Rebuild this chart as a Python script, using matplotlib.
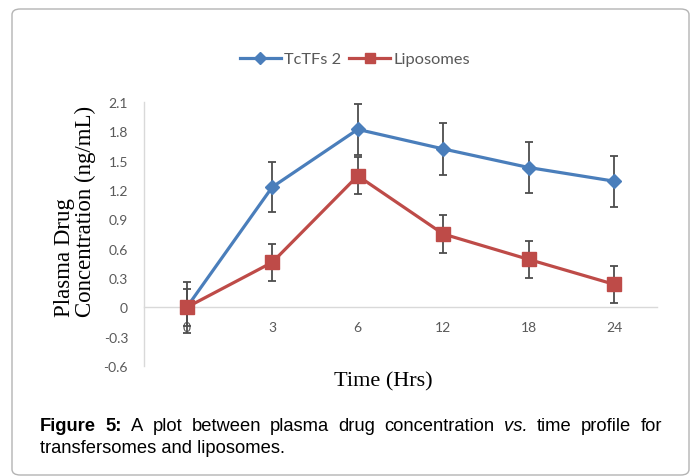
import matplotlib
matplotlib.use("Agg")
import matplotlib.pyplot as plt
from matplotlib.patches import FancyBboxPatch
from matplotlib.lines import Line2D

# ---- data ----
time_labels = ["0", "3", "6", "12", "18", "24"]
tctfs_values = [0.0, 1.23, 1.82, 1.62, 1.43, 1.29]
tctfs_err = [0.26, 0.26, 0.26, 0.265, 0.265, 0.26]
lipo_values = [0.0, 0.46, 1.345, 0.75, 0.49, 0.235]
lipo_err = [0.19, 0.19, 0.19, 0.19, 0.19, 0.19]
y_ticks = [-0.6, -0.3, 0, 0.3, 0.6, 0.9, 1.2, 1.5, 1.8, 2.1]
y_tick_labels = ["-0.6", "-0.3", "0", "0.3", "0.6", "0.9", "1.2", "1.5", "1.8", "2.1"]

W, H = 691, 477
fig = plt.figure(figsize=(W / 100, H / 100), dpi=100)

def fx(px):
    return px / W

def fy(py):
    return 1 - py / H

# outer rounded border
box = FancyBboxPatch((fx(12), fy(476)), fx(689) - fx(12), fy(10) - fy(476),
                     boxstyle="round,pad=0,rounding_size=0.012",
                     transform=fig.transFigure, facecolor="none",
                     edgecolor="#b4b4b4", linewidth=1.0, zorder=-1)
fig.patches.append(box)

ax = fig.add_axes([fx(144), fy(367), fx(657) - fx(144), fy(103) - fy(367)])
ax.set_facecolor("none")
x = list(range(len(time_labels)))

blue = "#4A7EBB"
red = "#BE4B48"
errc = "#4d4d4d"

ax.errorbar(x, tctfs_values, yerr=tctfs_err, color=blue, lw=2.3, marker="D",
            ms=7.5, mec=blue, mfc=blue, ecolor=errc, elinewidth=1.3,
            capsize=3, capthick=1.3, zorder=3)
ax.errorbar(x, lipo_values, yerr=lipo_err, color=red, lw=2.3, marker="s",
            ms=9.5, mec=red, mfc=red, ecolor=errc, elinewidth=1.3,
            capsize=3, capthick=1.3, zorder=4)

ax.set_xlim(-0.5, len(time_labels) - 0.5)
ax.set_ylim(-0.6, 2.1)
ax.set_yticks(y_ticks)
ax.set_yticklabels(y_tick_labels)
ax.set_xticks(x)
ax.set_xticklabels(time_labels)

for s in ["top", "right"]:
    ax.spines[s].set_visible(False)
ax.spines["left"].set_color("#d9d9d9")
ax.spines["bottom"].set_color("#d9d9d9")
ax.spines["bottom"].set_position(("data", 0))
ax.spines["left"].set_linewidth(1.0)
ax.spines["bottom"].set_linewidth(1.0)
ax.tick_params(axis="both", length=0, colors="#595959", labelsize=10)
ax.tick_params(axis="y", pad=11.5)
ax.tick_params(axis="x", pad=9.5)
for lab in ax.get_xticklabels() + ax.get_yticklabels():
    lab.set_fontfamily("Lato")
    lab.set_color("#595959")

# legend
handles = [Line2D([], [], color=blue, lw=2.3, marker="D", ms=6, mfc=blue, mec=blue),
           Line2D([], [], color=red, lw=2.3, marker="s", ms=7.5, mfc=red, mec=red)]
leg = fig.legend(handles, ["TcTFs 2", "Liposomes"], loc="center",
                 bbox_to_anchor=(fx(355), fy(60)), ncol=2,
                 frameon=False, prop={"family": "Lato", "size": 11.8},
                 handlelength=2.5, columnspacing=0.5, handletextpad=0.2)
for t in leg.get_texts():
    t.set_color("#595959")

# axis titles
fig.text(fx(75), fy(211), "Plasma Drug\nConcentration (ng/mL)", rotation=90,
         ha="center", va="center", multialignment="left",
         family="Liberation Serif", fontsize=16.5, linespacing=0.95)
fig.text(fx(383), fy(382), "Time (Hrs)", ha="center", va="center",
         family="Liberation Serif", fontsize=16)

# caption, first line justified
renderer = fig.canvas.get_renderer()
words = [("Figure", "bold", "normal"), ("5:", "bold", "normal"),
         ("A", "normal", "normal"), ("plot", "normal", "normal"),
         ("between", "normal", "normal"), ("plasma", "normal", "normal"),
         ("drug", "normal", "normal"), ("concentration", "normal", "normal"),
         ("vs.", "normal", "italic"), ("time", "normal", "normal"),
         ("profile", "normal", "normal"), ("for", "normal", "normal")]
cap_size = 13.2
texts = []
for w, wt, st in words:
    t = fig.text(0, fy(431), w, ha="left", va="baseline", family="Liberation Sans",
                 fontsize=cap_size, fontweight=wt, fontstyle=st, color="black")
    texts.append(t)
widths = [t.get_window_extent(renderer).width for t in texts]
x0, x1 = 40, 662
gap = (x1 - x0 - sum(widths)) / (len(words) - 1)
cur = x0
for t, wd in zip(texts, widths):
    t.set_x(fx(cur))
    cur += wd + gap
fig.text(fx(40), fy(453), "transfersomes and liposomes.", ha="left", va="baseline",
         family="Liberation Sans", fontsize=cap_size, color="black")

fig.savefig("out.png", dpi=100)
